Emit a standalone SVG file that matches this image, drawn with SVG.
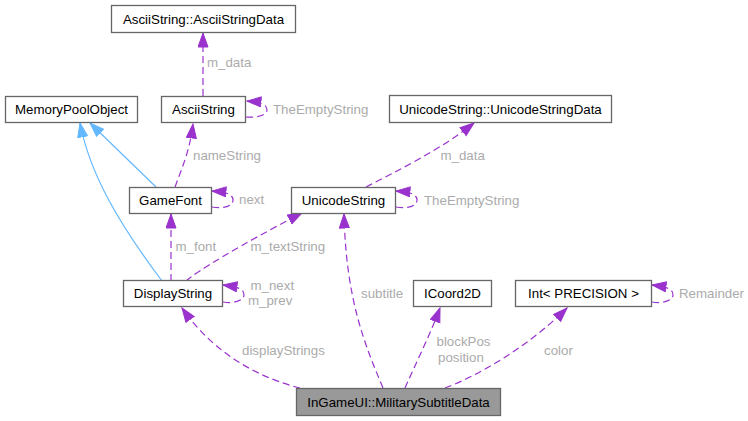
<svg xmlns="http://www.w3.org/2000/svg" width="748" height="421" viewBox="0 0 748 421">
<style>
.node rect{fill:#ffffff;stroke:#666666;stroke-width:1.3}
.node.hl rect{fill:#999999}
.node text{font-family:"Liberation Sans",Arial,sans-serif;font-size:13.3px;fill:#000000;text-anchor:middle}
.e{fill:none;stroke:#9a32cd;stroke-width:1.2;stroke-dasharray:7,4}
.inh{fill:none;stroke:#63b8ff;stroke-width:1.2}
.lbl{font-family:"Liberation Sans",Arial,sans-serif;font-size:13.3px;fill:#ababab}
</style>
<defs>
<marker id="ap" markerUnits="userSpaceOnUse" markerWidth="16" markerHeight="12" refX="14.5" refY="5.5" orient="auto">
<path d="M0.5,0.5 L14.5,5.5 L0.5,10.5 z" fill="#9a32cd" stroke="#9a32cd" stroke-width="1"/>
</marker>
<marker id="ab" markerUnits="userSpaceOnUse" markerWidth="16" markerHeight="12" refX="14.5" refY="5.5" orient="auto">
<path d="M0.5,0.5 L14.5,5.5 L0.5,10.5 z" fill="#63b8ff" stroke="#63b8ff" stroke-width="1"/>
</marker>
</defs>
<g id="connectors">
<path class="e" d="M203,96 L203,33" marker-end="url(#ap)"/>
<path class="e" d="M246,117 C258,118 267,115 267,110 C267,105 262,102 247,101" marker-end="url(#ap)"/>
<path class="inh" d="M156,187 L90,123" marker-end="url(#ab)"/>
<path class="inh" d="M162,281 C120,225 90,175 80,123" marker-end="url(#ab)"/>
<path class="e" d="M175,187 C182,168 190,150 193,124" marker-end="url(#ap)"/>
<path class="e" d="M212,207 C224,209 233,206 233,200 C233,195 228,192 212,191" marker-end="url(#ap)"/>
<path class="e" d="M171,281 L171,214" marker-end="url(#ap)"/>
<path class="e" d="M186,281 C196,272 240,245 302,213" marker-end="url(#ap)"/>
<path class="e" d="M223,302 C235,304 244,300 244,295 C244,289 239,287 223,285" marker-end="url(#ap)"/>
<path class="e" d="M300,388 C260,378 215,355 182,308" marker-end="url(#ap)"/>
<path class="e" d="M383,388 C365,345 346,300 344,214" marker-end="url(#ap)"/>
<path class="e" d="M405,388 C415,365 430,335 440,308" marker-end="url(#ap)"/>
<path class="e" d="M445,388 C480,375 530,345 567,308" marker-end="url(#ap)"/>
<path class="e" d="M652,302 C664,304 673,300 673,295 C673,289 668,287 652,285" marker-end="url(#ap)"/>
<path class="e" d="M366,187 C395,172 440,150 474,123" marker-end="url(#ap)"/>
<path class="e" d="M396,207 C408,209 417,206 417,200 C417,195 412,192 396,191" marker-end="url(#ap)"/>
<text class="lbl" x="207" y="67">m_data</text>
<text class="lbl" x="273" y="114">TheEmptyString</text>
<text class="lbl" x="193" y="159.5">nameString</text>
<text class="lbl" x="239" y="204">next</text>
<text class="lbl" x="175.5" y="250.5">m_font</text>
<text class="lbl" x="250.5" y="250.5">m_textString</text>
<text class="lbl" x="250.5" y="290">m_next</text>
<text class="lbl" x="248" y="305">m_prev</text>
<text class="lbl" x="242" y="354.5">displayStrings</text>
<text class="lbl" x="361" y="298">subtitle</text>
<text class="lbl" x="436.5" y="346">blockPos</text>
<text class="lbl" x="438" y="362">position</text>
<text class="lbl" x="544" y="354.5">color</text>
<text class="lbl" x="679" y="298">Remainder</text>
<text class="lbl" x="440.5" y="160">m_data</text>
<text class="lbl" x="424" y="204.5">TheEmptyString</text>
</g>
<g id="n_asciidata" class="node"><rect x="111.5" y="5.5" width="184" height="27"/><text x="203.5" y="23.5">AsciiString::AsciiStringData</text></g>
<g id="n_mempool" class="node"><rect x="5.5" y="96.5" width="132" height="26"/><text x="71.5" y="114">MemoryPoolObject</text></g>
<g id="n_ascii" class="node"><rect x="161.5" y="96.5" width="84" height="26"/><text x="203.5" y="114">AsciiString</text></g>
<g id="n_unidata" class="node"><rect x="389.5" y="95.5" width="222" height="27"/><text x="500.5" y="113.5">UnicodeString::UnicodeStringData</text></g>
<g id="n_gamefont" class="node"><rect x="129.5" y="187.5" width="82" height="26"/><text x="170.5" y="205">GameFont</text></g>
<g id="n_unicode" class="node"><rect x="291.5" y="187.5" width="104" height="26"/><text x="343.5" y="205">UnicodeString</text></g>
<g id="n_display" class="node"><rect x="123.5" y="280.5" width="99" height="26"/><text x="173" y="298">DisplayString</text></g>
<g id="n_icoord" class="node"><rect x="413.5" y="280.5" width="78" height="26"/><text x="452.5" y="298">ICoord2D</text></g>
<g id="n_int" class="node"><rect x="515.5" y="280.5" width="136" height="26"/><text x="583.5" y="298">Int&lt; PRECISION &gt;</text></g>
<g id="n_msd" class="node hl"><rect x="296.5" y="388.5" width="204" height="27"/><text x="398.5" y="406.5">InGameUI::MilitarySubtitleData</text></g>
</svg>
